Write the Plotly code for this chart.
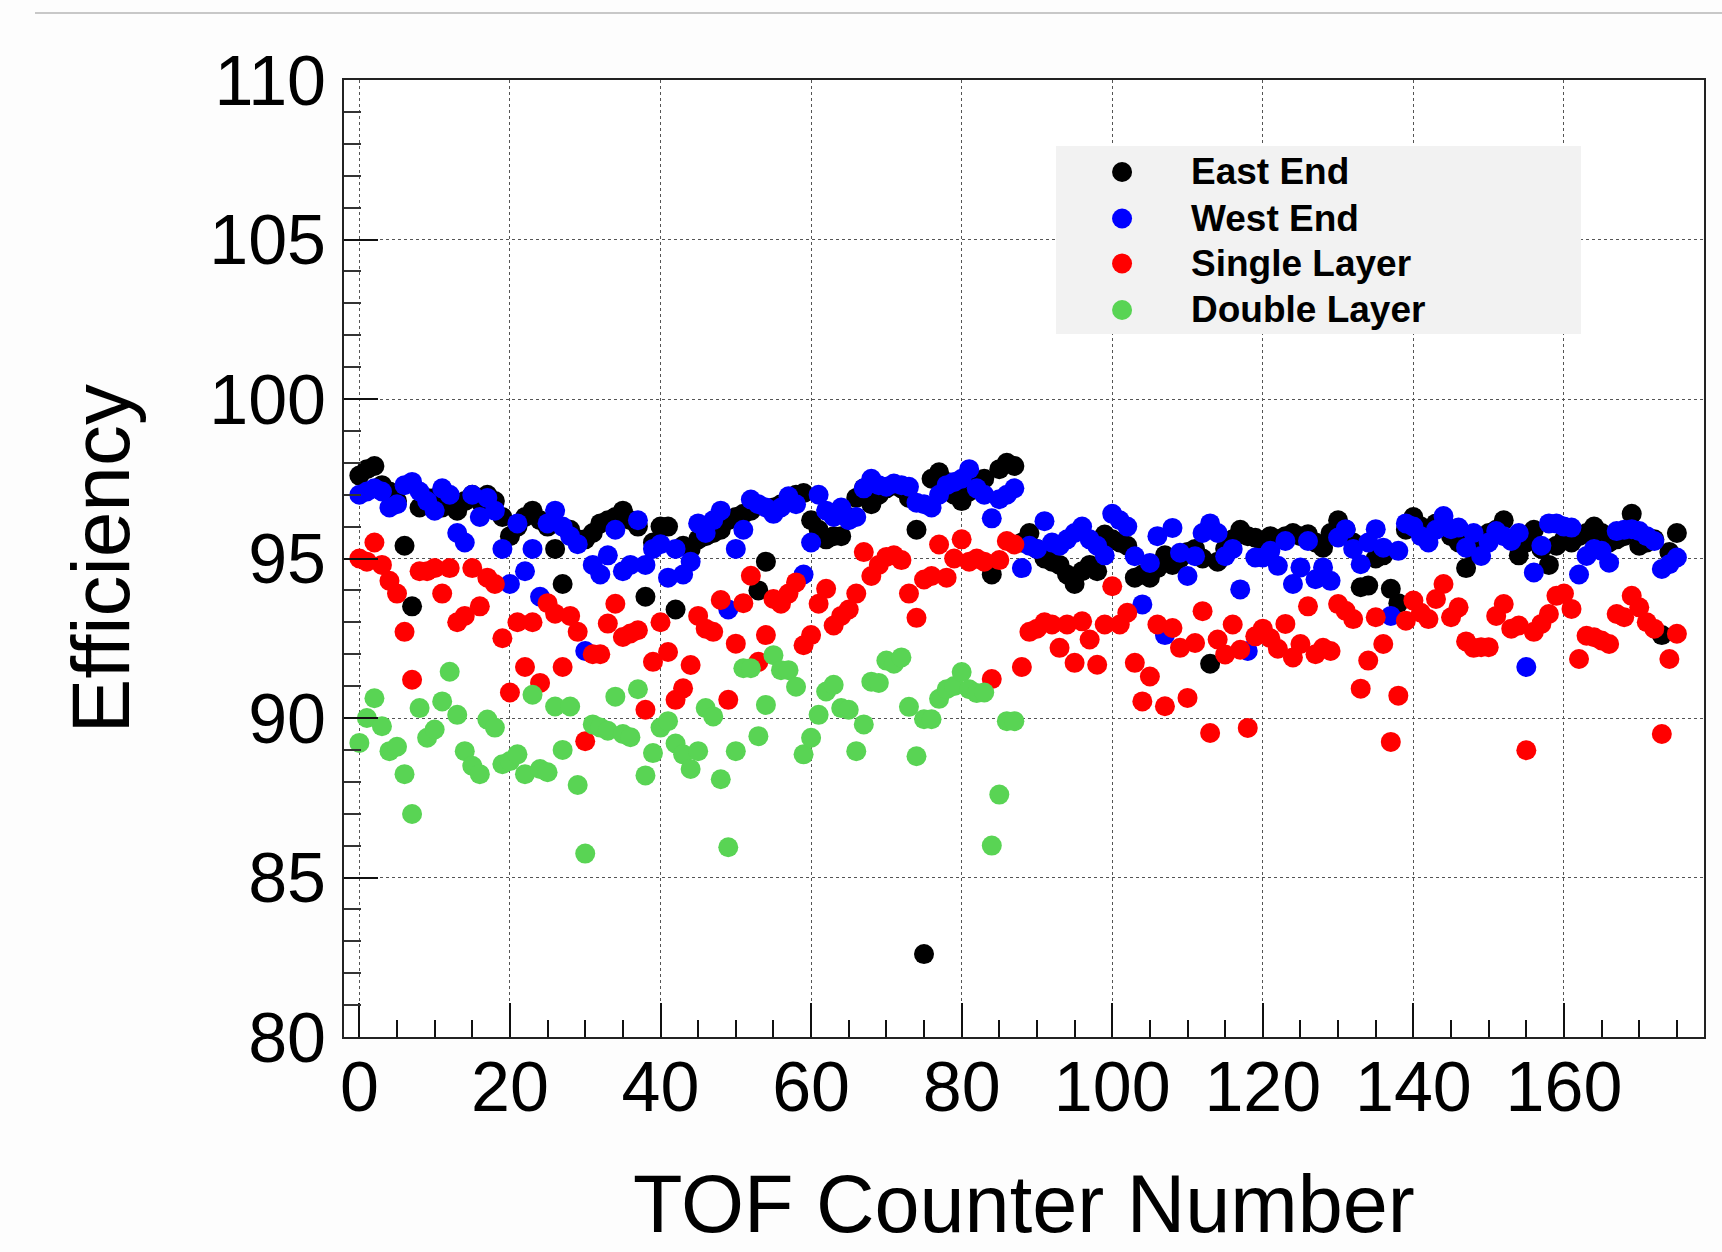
import plotly.graph_objects as go

# Counter numbers (x) for each series
counter_all = list(range(176))
counter_double = list(range(88))

# Efficiency per TOF counter (%)
east_end = [
    97.6, 97.8, 97.9, 97.3, 97.1, 96.8, 95.4, 93.5, 96.6, 96.9,
    96.9, 96.6, 96.8, 96.5, 96.8, 97.0, 96.8, 97.0, 96.8, 96.3,
    95.7, 96.0, 96.3, 96.5, 96.2, 96.0, 95.3, 94.2, 95.9, 95.6,
    95.6, 95.8, 96.1, 96.2, 96.3, 96.5, 96.2, 96.0, 93.8, 95.5,
    96.0, 96.0, 93.4, 95.4, 95.3, 95.6, 95.7, 95.8, 95.9, 96.2,
    96.3, 96.4, 96.5, 94.0, 94.9, 96.6, 96.7, 96.9, 97.0, 97.05,
    96.2, 95.9, 95.6, 95.7, 95.7, 96.3, 96.9, 97.2, 96.7, 97.0,
    97.2, 97.3, 97.2, 96.9, 95.9, 82.6, 97.5, 97.7, 97.4, 97.0,
    96.8, 97.1, 97.3, 97.5, 94.5, 97.8, 98.0, 97.9, 95.5, 95.8,
    95.3, 95.0, 94.9, 94.8, 94.5, 94.2, 94.6, 94.8, 94.6, 95.75,
    95.6, 95.5, 95.4, 94.4, 94.5, 94.4, 94.7, 95.1, 94.8, 95.0,
    95.2, 95.3, 95.0, 91.7, 94.9, 95.3, 95.6, 95.9, 95.7, 95.65,
    95.5, 95.7, 95.6, 95.7, 95.8, 95.7, 95.76, 95.5, 95.34, 95.8,
    96.2, 95.9, 95.5, 94.1, 94.15, 95.0, 95.1, 94.05, 93.6, 95.9,
    96.3, 96.0, 95.9, 96.1, 96.2, 95.7, 95.5, 94.7, 95.2, 95.6,
    95.8, 95.9, 96.2, 95.6, 95.1, 95.5, 95.9, 95.3, 94.8, 95.4,
    95.6, 95.5, 95.7, 95.8, 96.0, 95.8, 95.5, 95.6, 95.7, 96.4,
    95.4, 95.5, 95.6, 92.6, 95.2, 95.8,
]

west_end = [
    97.0, 97.1, 97.2, 97.1, 96.6, 96.7, 97.3, 97.4, 97.1, 96.8,
    96.5, 97.2, 97.0, 95.8, 95.5, 97.0, 96.3, 96.9, 96.5, 95.3,
    94.2, 96.1, 94.6, 95.3, 93.8, 96.1, 96.5, 96.0, 95.7, 95.45,
    92.1, 94.8, 94.5, 95.1, 95.9, 94.6, 94.8, 96.2, 94.8, 95.3,
    95.45, 94.4, 95.3, 94.5, 94.9, 96.1, 95.8, 96.2, 96.5, 93.4,
    95.3, 95.9, 96.85, 96.7, 96.6, 96.4, 96.6, 96.95, 96.7, 94.5,
    95.5, 97.0, 96.5, 96.3, 96.6, 96.2, 96.3, 97.2, 97.5, 97.3,
    97.25, 97.35, 97.3, 97.25, 96.75, 96.7, 96.6, 97.0, 97.3, 97.4,
    97.5, 97.8, 97.2, 97.0, 96.26, 96.86, 97.0, 97.2, 94.7, 95.4,
    95.3, 96.17, 95.5, 95.4, 95.6, 95.8, 96.0, 95.6, 95.4, 95.1,
    96.4, 96.2, 96.0, 95.07, 93.56, 94.86, 95.7, 92.6, 95.96, 95.18,
    94.45, 95.07, 95.8, 96.1, 95.8, 95.07, 95.3, 94.03, 92.1, 95.03,
    95.03, 95.24, 94.77, 95.55, 94.2, 94.72, 95.55, 94.35, 94.72, 94.3,
    95.66, 95.92, 95.3, 94.82, 95.5, 95.92, 95.34, 93.2, 95.24, 96.1,
    96.0, 95.7, 95.5, 95.9, 96.33, 95.92, 95.97, 95.34, 95.8, 95.08,
    95.5, 95.86, 95.7, 95.55, 95.8, 91.6, 94.56, 95.4, 96.1, 96.1,
    96.0, 95.97, 94.5, 95.08, 95.3, 95.24, 94.87, 95.86, 95.9, 95.92,
    95.86, 95.7, 95.55, 94.67, 94.82, 95.03,
]

single_layer = [
    95.0, 94.9, 95.5, 94.8, 94.3, 93.9, 92.7, 91.2, 94.6, 94.6,
    94.7, 93.9, 94.7, 93.0, 93.2, 94.7, 93.5, 94.4, 94.2, 92.5,
    90.8, 93.0, 91.6, 93.0, 91.1, 93.6, 93.27, 91.6, 93.2, 92.7,
    89.27, 92.0, 92.0, 92.96, 93.58, 92.54, 92.65, 92.75, 90.26, 91.76,
    93.0, 92.07, 90.57, 90.93, 91.66, 93.2, 92.8, 92.7, 93.7, 90.57,
    92.33, 93.6, 94.46, 91.76, 92.6, 93.73, 93.58, 93.9, 94.25, 92.28,
    92.6, 93.58, 94.05, 92.9, 93.2, 93.4, 93.9, 95.2, 94.45, 94.8,
    95.05, 95.1, 94.95, 93.9, 93.14, 94.34, 94.45, 95.44, 94.4, 95.0,
    95.6, 94.9, 95.0, 94.9, 91.22, 94.95, 95.55, 95.44, 91.6, 92.7,
    92.8, 93.0, 92.93, 92.2, 92.93, 91.73, 93.03, 92.46, 91.67, 92.93,
    94.13, 92.93, 93.3, 91.73, 90.52, 91.3, 92.93, 90.37, 92.82, 92.2,
    90.63, 92.35, 93.35, 89.53, 92.46, 91.99, 92.93, 92.14, 89.69, 92.56,
    92.8, 92.5, 92.17, 92.95, 91.9, 92.32, 93.5, 92.0, 92.2, 92.1,
    93.57, 93.36, 93.1, 90.92, 91.8, 93.16, 92.32, 89.25, 90.7, 93.05,
    93.68, 93.3, 93.1, 93.73, 94.2, 93.16, 93.47, 92.4, 92.2, 92.22,
    92.22, 93.2, 93.57, 92.8, 92.9, 88.99, 92.7, 92.95, 93.26, 93.83,
    93.9, 93.42, 91.85, 92.58, 92.53, 92.43, 92.32, 93.26, 93.16, 93.83,
    93.47, 93.0, 92.8, 89.5, 91.85, 92.64,
]

double_layer = [
    89.22, 90.0, 90.62, 89.74, 88.96, 89.1, 88.24, 86.99, 90.31, 89.38,
    89.64, 90.52, 91.45, 90.1, 88.96, 88.5, 88.24, 89.95, 89.7, 88.55,
    88.65, 88.86, 88.24, 90.73, 88.4, 88.3, 90.36, 89.0, 90.36, 87.9,
    85.75, 89.8, 89.7, 89.6, 90.67, 89.5, 89.4, 90.9, 88.2, 88.9,
    89.7, 89.9, 89.2, 88.86, 88.4, 88.96, 90.31, 90.05, 88.08, 85.95,
    88.96, 91.56, 91.56, 89.43, 90.41, 91.97, 91.5, 91.5, 90.98, 88.86,
    89.38, 90.1, 90.83, 91.04, 90.31, 90.26, 88.96, 89.8, 91.14, 91.1,
    91.8, 91.7, 91.9, 90.35, 88.8, 89.96, 89.96, 90.6, 90.9, 91.0,
    91.44, 90.9, 90.78, 90.8, 86.0, 87.6, 89.9, 89.9,
]

series_names = ["East End", "West End", "Single Layer", "Double Layer"]
series_x = [counter_all, counter_all, counter_all, counter_double]
series_y = [east_end, west_end, single_layer, double_layer]
series_colors = ["#000000", "#0000ff", "#ff0000", "#59d454"]

FONT = "Liberation Sans, Arial, Helvetica, sans-serif"
MARKER_SIZE = 20

fig = go.Figure()
for name, xs, ys, color in zip(series_names, series_x, series_y, series_colors):
    fig.add_trace(go.Scatter(
        x=xs, y=ys, mode="markers", name=name, showlegend=False,
        marker=dict(color=color, size=MARKER_SIZE, line=dict(width=0)),
    ))

axis_common = dict(
    showline=True, linecolor="#222222", linewidth=2, mirror=True,
    ticks="inside", tickcolor="#111111", tickwidth=2, ticklen=34,
    showgrid=True, gridcolor="#555555", griddash="dot", gridwidth=1,
    zeroline=False,
    tickfont=dict(family=FONT, size=70, color="#000000"),
)

fig.update_xaxes(
    range=[-2.04, 178.6], tick0=0, dtick=20,
    minor=dict(dtick=5, ticks="inside", ticklen=17, tickwidth=2, tickcolor="#111111", showgrid=False),
    ticklabelstandoff=-12,
    **axis_common,
)
fig.update_yaxes(
    range=[80, 110], tick0=80, dtick=5,
    minor=dict(dtick=1, ticks="inside", ticklen=17, tickwidth=2, tickcolor="#333333", showgrid=False),
    ticklabelstandoff=2,
    **axis_common,
)

# Legend panel: grey box with a dot swatch and bold label per series
legend_left, legend_right = 0.5235, 0.9096
legend_bottom, legend_top = 0.7346, 0.931
swatch_x, label_x = 0.5721, 0.6213
row_y = [0.9039, 0.8553, 0.8083, 0.7597]

shapes = [
    dict(type="rect", xref="paper", yref="paper",
         x0=legend_left, x1=legend_right, y0=legend_bottom, y1=legend_top,
         fillcolor="#f2f2f2", line=dict(width=0), layer="above"),
    # thin rule across the top of the page
    dict(type="line", xref="paper", yref="paper",
         x0=-0.2272, x1=1.02, y0=1.07, y1=1.07,
         line=dict(color="#c8c8c8", width=2)),
]
annotations = [
    dict(text="TOF Counter Number", xref="paper", yref="paper",
         x=0.5, y=-0.1745, xanchor="center", yanchor="middle",
         height=92, valign="middle",
         showarrow=False, font=dict(family=FONT, size=81, color="#000000")),
    dict(text="Efficiency", xref="paper", yref="paper",
         x=-0.1787, y=0.5, xanchor="center", yanchor="middle", textangle=-90,
         showarrow=False, font=dict(family=FONT, size=82, color="#000000")),
]
for name, color, ry in zip(series_names, series_colors, row_y):
    shapes.append(dict(
        type="circle", xref="paper", yref="paper",
        xsizemode="pixel", ysizemode="pixel", xanchor=swatch_x, yanchor=ry,
        x0=-MARKER_SIZE / 2, x1=MARKER_SIZE / 2, y0=-MARKER_SIZE / 2, y1=MARKER_SIZE / 2,
        fillcolor=color, line=dict(width=0), layer="above",
    ))
    annotations.append(dict(
        text=name, xref="paper", yref="paper", x=label_x, y=ry,
        xanchor="left", yanchor="middle", showarrow=False,
        font=dict(family=FONT, size=37, color="#000000", weight="bold"),
    ))

fig.update_layout(
    width=1722, height=1252, autosize=False,
    margin=dict(l=344, r=18, t=80, b=215),
    paper_bgcolor="#fdfdfd", plot_bgcolor="#ffffff",
    font=dict(family=FONT, color="#000000"),
    showlegend=False,
    shapes=shapes,
    annotations=annotations,
)

fig.write_html("out.html")
